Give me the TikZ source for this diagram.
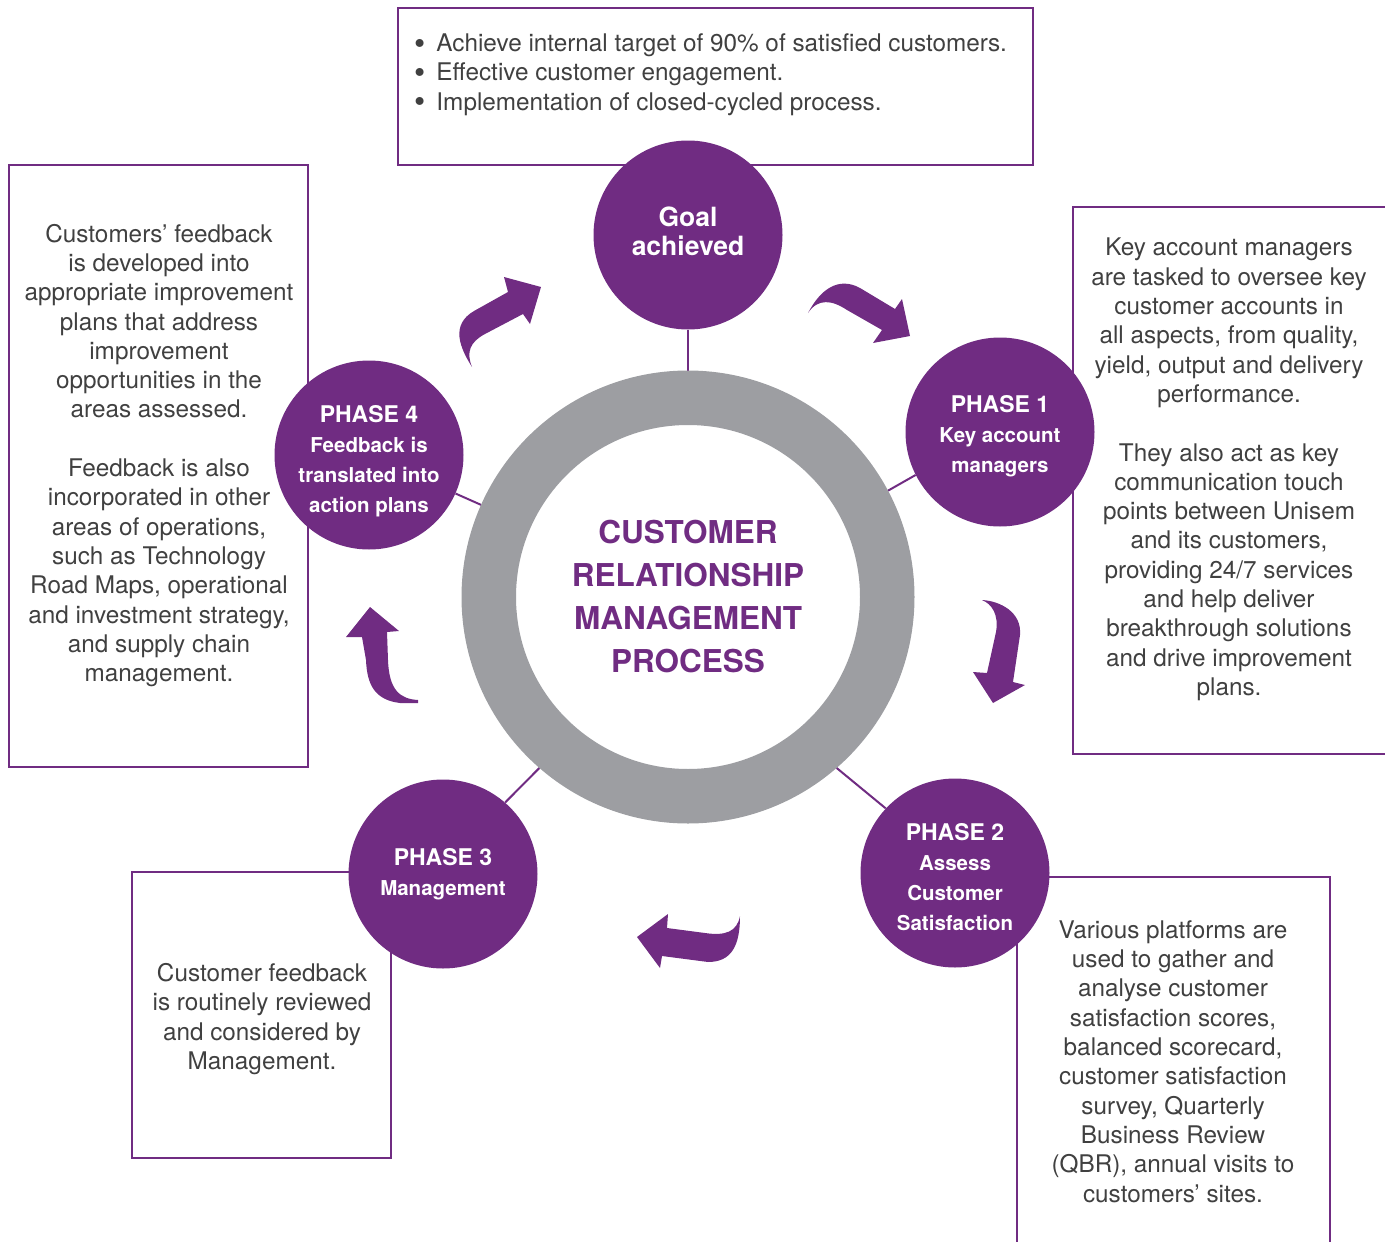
\documentclass[tikz,border=0pt]{standalone}
\usepackage{fontspec}
\setmainfont{TeX Gyre Heros}
\usepackage{tikz}
\usetikzlibrary{backgrounds}
\definecolor{cmPurple}{RGB}{112, 44, 130}
\definecolor{cmGray}{RGB}{157, 158, 162}
\definecolor{cmText}{RGB}{64, 64, 64}
\tikzset{
    base/.style={
        align=center,
        inner sep=0pt
    },
    phase/.style={
        base,
        circle,
        fill=cmPurple,
        minimum size=189pt
    },
    phasetext/.style={
        base,
        text=white,
        font=\bfseries\fontsize{20.5}{30}\selectfont
    },
    hub/.style={
        base,
        circle,
        draw=cmGray,
        line width=54.5pt,
        fill=white,
        minimum size=398.5pt,
        text=cmPurple,
        font=\bfseries\fontsize{31.5}{43}\selectfont
    },
    note/.style={
        base,
        text=cmText,
        font=\fontsize{24.3}{29.3}\selectfont
    },
    frame/.style={
        draw=cmPurple,
        line width=1.3pt
    },
    link/.style={
        draw=cmPurple,
        line width=2pt
    },
    swoosh/.style={
        fill=cmPurple
    }
}
\newcommand{\phasehead}[1]{{\fontsize{23}{30}\selectfont #1}}
\newcommand{\dotitem}{{\fontsize{32}{29.3}\selectfont\raisebox{-2.7pt}{\textbullet}}\hspace{11pt}}

\begin{document}
\begin{tikzpicture}[x=1pt, y=-1pt]
  \useasboundingbox (0,0) rectangle (1385,1242);

  % Frames
  \draw[frame] (398,8) rectangle (1033,165);
  \draw[frame] (9,165) rectangle (308,767);
  \draw[frame] (1385,207) -- (1073,207) -- (1073,754) -- (1385,754);
  \draw[frame] (132,872) rectangle (391,1158);
  \draw[frame] (1017,1242) -- (1017,877) -- (1330,877) -- (1330,1242);

  % Hub and phases
  \node[hub] (ring) at (688,597) {CUSTOMER\\RELATIONSHIP\\MANAGEMENT\\PROCESS};
  \node[phase] (goal) at (688,235) {};
  \node[phase] (p1) at (1000,432) {};
  \node[phase] (p2) at (955,873) {};
  \node[phase] (p3) at (443,874) {};
  \node[phase] (p4) at (369,455) {};

  \node[phasetext, font=\bfseries\fontsize{26.5}{29}\selectfont, yshift=4pt] (goaltext) at (goal) {Goal\\achieved};
  \node[phasetext, yshift=-4.5pt] (p1text) at (p1) {\phasehead{PHASE 1}\\Key account\\managers};
  \node[phasetext, yshift=-4pt] (p2text) at (p2) {\phasehead{PHASE 2}\\Assess\\Customer\\Satisfaction};
  \node[phasetext] (p3text) at (p3) {\phasehead{PHASE 3}\\Management};
  \node[phasetext, yshift=-6pt] (p4text) at (p4) {\phasehead{PHASE 4}\\Feedback is\\translated into\\action plans};

  % Connectors
  \begin{pgfonlayer}{background}
    \draw[link] (ring) -- (goal);
    \draw[link] (ring.28) -- (p1.-153);
    \draw[link] (ring.-49) -- (p2.137);
    \draw[link] (ring.-131) -- (p3.49);
    \draw[link] (ring.156) -- (p4.-24);
  \end{pgfonlayer}

  % Cycle arrows
  \fill[swoosh] (472,367) .. controls (460,348) and (450,325) .. (474,311) -- (508,292) -- (504,277) -- (541,287) -- (530,324) -- (523,314) -- (485,334) .. controls (470,342) and (466,352) .. (472,367) -- cycle;
  \fill[swoosh] (808,313) .. controls (820,290) and (838,276) .. (860,288) -- (895,309) -- (902,299) -- (910,336) -- (873,343) -- (882,330) -- (847,310) .. controls (832,300) and (818,298) .. (808,313) -- cycle;
  \fill[swoosh] (982,600) .. controls (1000,601) and (1022,612) .. (1020,635) -- (1013,682) -- (1025,685) -- (993,703) -- (973,672) -- (987,673) -- (996,632) .. controls (999,615) and (992,604) .. (982,600) -- cycle;
  \fill[swoosh] (740,916) .. controls (740,945) and (732,962) .. (708,962) -- (662,956) -- (660,968) -- (637,937) -- (668,914) -- (667,928) -- (705,933) .. controls (725,936) and (737,932) .. (740,916) -- cycle;
  \fill[swoosh] (370,607) -- (399,631) -- (387,632) -- (388,660) .. controls (389,690) and (400,699) .. (418,700) -- (418,703) -- (400,703) .. controls (375,700) and (367,685) .. (366,660) -- (362,637) -- (346,637) -- cycle;

  % Notes
  \node[note, anchor=west, align=left] (goals) at (414,74.5) {\dotitem Achieve internal target of 90\% of satisfied customers.\\\dotitem Effective customer engagement.\\\dotitem Implementation of closed-cycled process.};
  \node[note] (feedback) at (159,455.5) {Customers’ feedback\\is developed into\\appropriate improvement\\plans that address\\improvement\\opportunities in the\\areas assessed.\\[29.3pt]Feedback is also\\incorporated in other\\areas of operations,\\such as Technology\\Road Maps, operational\\and investment strategy,\\and supply chain\\management.};
  \node[note] (managers) at (1229,469.5) {Key account managers\\are tasked to oversee key\\customer accounts in\\all aspects, from quality,\\yield, output and delivery\\performance.\\[29.3pt]They also act as key\\communication touch\\points between Unisem\\and its customers,\\providing 24/7 services\\and help deliver\\breakthrough solutions\\and drive improvement\\plans.};
  \node[note] (review) at (262,1019) {Customer feedback\\is routinely reviewed\\and considered by\\Management.};
  \node[note] (platforms) at (1173,1061.5) {Various platforms are\\used to gather and\\analyse customer\\satisfaction scores,\\balanced scorecard,\\customer satisfaction\\survey, Quarterly\\Business Review\\(QBR), annual visits to\\customers’ sites.};

\end{tikzpicture}
\end{document}
